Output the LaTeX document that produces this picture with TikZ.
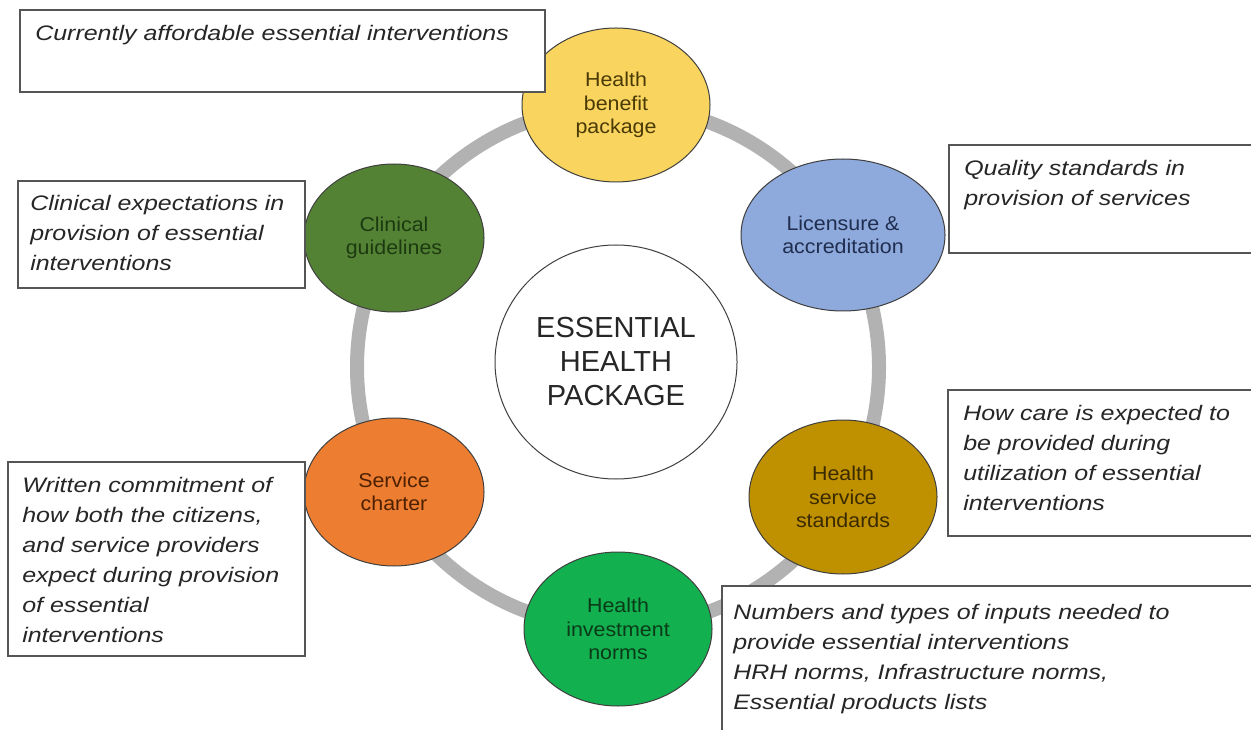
\documentclass[tikz,border=0pt]{standalone}
\usepackage{fontspec}
\setmainfont{Liberation Sans}
\newfontfamily\boxfont[FakeStretch=1.19]{Liberation Sans}
\newfontfamily\circfont[FakeStretch=1.07]{Liberation Sans}
\usetikzlibrary{shapes.geometric,fit}
\definecolor{cYel}{HTML}{F9D45F}
\definecolor{cYelT}{HTML}{4A3A05}
\definecolor{cClin}{HTML}{548235}
\definecolor{cClinT}{HTML}{1C3A10}
\definecolor{cBlue}{HTML}{8EA9DB}
\definecolor{cBlueT}{HTML}{1F2E4F}
\definecolor{cGold}{HTML}{BF9000}
\definecolor{cGoldT}{HTML}{3A2A00}
\definecolor{cGrn}{HTML}{12B04F}
\definecolor{cGrnT}{HTML}{0A3A18}
\definecolor{cOra}{HTML}{ED7D31}
\definecolor{cOraT}{HTML}{4D2000}
\definecolor{ringgray}{HTML}{B2B2B2}
\definecolor{edge}{HTML}{3F3F3F}
\definecolor{boxline}{HTML}{555555}
\definecolor{boxtext}{HTML}{262626}
\begin{document}
\begin{tikzpicture}[x=0.75pt,y=-0.75pt,
  bubble/.style={ellipse, draw=edge, line width=0.75pt, inner sep=0pt, outer sep=0pt, align=center,
    font=\circfont\fontsize{15pt}{17.5pt}\selectfont},
  ringstyle/.style={circle, draw=ringgray, line width=10.5pt, minimum size=391.5pt, inner sep=0pt},
  descbox/.style={draw=boxline, fill=white, line width=1.1pt, inner sep=0pt, rectangle},
  desctext/.style={anchor=north west, inner sep=0pt, align=left, text=boxtext,
    font=\boxfont\itshape\fontsize{15.75pt}{22.5pt}\selectfont}
]
\useasboundingbox (0,0) rectangle (1251,730);
\fill[white] (0,0) rectangle (1251,730);
\clip (0,0) rectangle (1251,730);

% ring
\node[ringstyle] (ring) at (618,367) {};

% centre
\node[ellipse, draw=edge, line width=0.75pt, fill=white, minimum width=181.5pt, minimum height=175.5pt,
  inner sep=0pt, align=center, text=black!85, font=\fontsize{21.75pt}{25.5pt}\selectfont]
  (ehp) at (616,362) {ESSENTIAL\\HEALTH\\PACKAGE};

% bubbles
\node[bubble, fill=cYel, text=cYelT, minimum width=141pt, minimum height=115.5pt] (hbp) at (616,105) {Health\\benefit\\package};
\node[bubble, fill=cBlue, text=cBlueT, minimum width=153pt, minimum height=114pt] (lic) at (843,235) {Licensure \&\\accreditation};
\node[bubble, fill=cGold, text=cGoldT, minimum width=141pt, minimum height=115.5pt] (hss) at (843,497) {Health\\service\\standards};
\node[bubble, fill=cGrn, text=cGrnT, minimum width=141pt, minimum height=115.5pt] (hin) at (618,629) {Health\\investment\\norms};
\node[bubble, fill=cOra, text=cOraT, minimum width=135pt, minimum height=111pt] (sch) at (394,492) {Service\\charter};
\node[bubble, fill=cClin, text=cClinT, minimum width=135pt, minimum height=111pt] (clg) at (394,238) {Clinical\\guidelines};

% description boxes
\node[descbox, fit={(20,10) (545,92)}] (boxA) {};
\node[desctext] (txtA) at (35,25) {Currently affordable essential interventions};

\node[descbox, fit={(18,181) (305,288)}] (boxB) {};
\node[desctext] (txtB) at (30,195) {Clinical expectations in\\provision of essential\\interventions};

\node[descbox, fit={(949,145) (1265,253)}] (boxC) {};
\node[desctext] (txtC) at (964,160) {Quality standards in\\provision of services};

\node[descbox, fit={(948,390) (1265,536)}] (boxD) {};
\node[desctext] (txtD) at (963,405) {How care is expected to\\be provided during\\utilization of essential\\interventions};

\node[descbox, fit={(8,462) (305,656)}] (boxE) {};
\node[desctext] (txtE) at (22,477) {Written commitment of\\how both the citizens,\\and service providers\\expect during provision\\of essential\\interventions};

\node[descbox, fit={(722,586) (1265,745)}] (boxF) {};
\node[desctext] (txtF) at (733,604) {Numbers and types of inputs needed to\\provide essential interventions\\HRH norms, Infrastructure norms,\\Essential products lists};
\end{tikzpicture}
\end{document}
